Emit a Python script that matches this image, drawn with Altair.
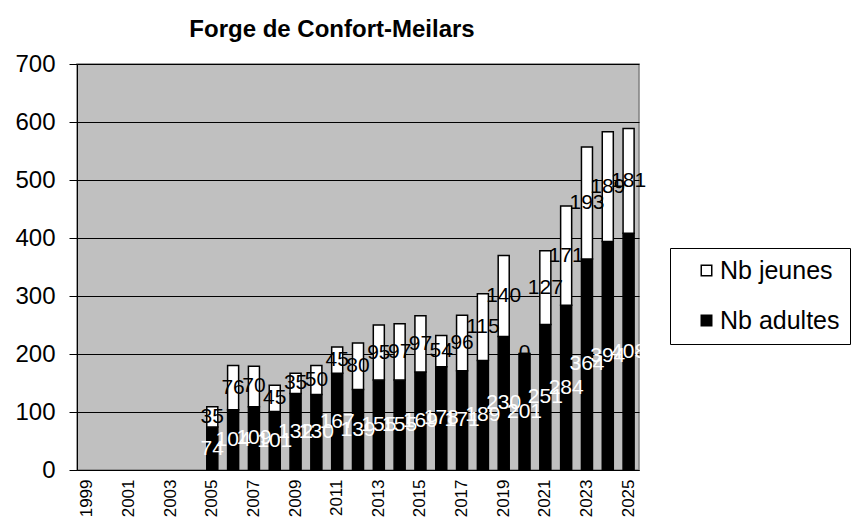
import altair as alt
import pandas as pd

years = [str(y) for y in range(1999, 2026)]
data_years = [str(y) for y in range(2005, 2026)]
adultes = [74, 104, 109, 101, 132, 130, 167, 139, 155, 155, 169, 178, 171, 189,
           230, 201, 251, 284, 364, 394, 408]
jeunes = [35, 76, 70, 45, 35, 50, 45, 80, 95, 97, 97, 54, 96, 115,
          140, 0, 127, 171, 193, 189, 181]
series = ["Nb jeunes", "Nb adultes"]
odd_years = [str(y) for y in range(1999, 2026, 2)]

rows = []
for yr, a, j in zip(data_years, adultes, jeunes):
    rows.append({"year": yr, "serie": "Nb adultes", "value": a, "ord": 0})
    rows.append({"year": yr, "serie": "Nb jeunes", "value": j, "ord": 1})
df = pd.DataFrame(rows)

FONT = "Liberation Sans"

base = alt.Chart(df).transform_stack(
    stack="value", as_=["y0", "y1"], groupby=["year"],
    sort=[alt.SortField("ord", order="ascending")]
).transform_calculate(mid="(datum.y0 + datum.y1) / 2")

xenc = alt.X("year:O",
             scale=alt.Scale(domain=years, paddingInner=0.47, paddingOuter=0.235),
             axis=alt.Axis(title=None, values=odd_years, labelAngle=270,
                           labelAlign="right", labelBaseline="middle",
                           labelFontSize=17, labelFont=FONT, labelColor="black",
                           ticks=False, labelPadding=9, domainColor="black",
                           domainWidth=1, grid=False))

bars = base.mark_bar(stroke="black", strokeWidth=1.5).encode(
    x=xenc,
    y=alt.Y("y0:Q", scale=alt.Scale(domain=[0, 700], nice=False),
            axis=alt.Axis(title=None, values=list(range(0, 701, 100)),
                          labelFontSize=24, labelFont=FONT, labelColor="black",
                          tickSize=8, tickColor="black", labelPadding=14,
                          domainColor="black", gridColor="black", gridWidth=1,
                          grid=True)),
    y2="y1:Q",
    color=alt.Color("serie:N",
                    scale=alt.Scale(domain=series, range=["white", "black"]),
                    legend=alt.Legend(title=None, orient="none", legendX=593,
                                      legendY=184, strokeColor="black",
                                      padding=10, symbolOffset=14,
                                      rowPadding=24, labelFontSize=25,
                                      labelFont=FONT, labelColor="black",
                                      symbolType="square", symbolSize=110,
                                      symbolStrokeColor="black",
                                      symbolStrokeWidth=1.5, labelOffset=1)),
)

txt_ad = base.transform_filter(alt.datum.serie == "Nb adultes").mark_text(
    fontSize=21, font=FONT, color="white", baseline="middle", align="center"
).encode(x=alt.X("year:O", scale=alt.Scale(domain=years)), y="mid:Q", text="value:Q")

txt_j = base.transform_filter(alt.datum.serie == "Nb jeunes").mark_text(
    fontSize=21, font=FONT, color="black", baseline="middle", align="center"
).encode(x=alt.X("year:O", scale=alt.Scale(domain=years)), y="mid:Q", text="value:Q")

chart = alt.layer(bars, txt_ad, txt_j).properties(
    width=562, height=406,
    title=alt.Title("Forge de Confort-Meilars", fontSize=24, font=FONT,
                    fontWeight="bold", color="black", anchor="middle",
                    offset=10, dx=-26),
    autosize=alt.AutoSizeParams(type="none"),
    padding={"left": 69, "top": 56, "right": 215, "bottom": 50},
).configure_view(fill="#C0C0C0", stroke="#808080", strokeWidth=1.5)

chart.save("out.html", embed_options={"renderer": "svg", "actions": False})
